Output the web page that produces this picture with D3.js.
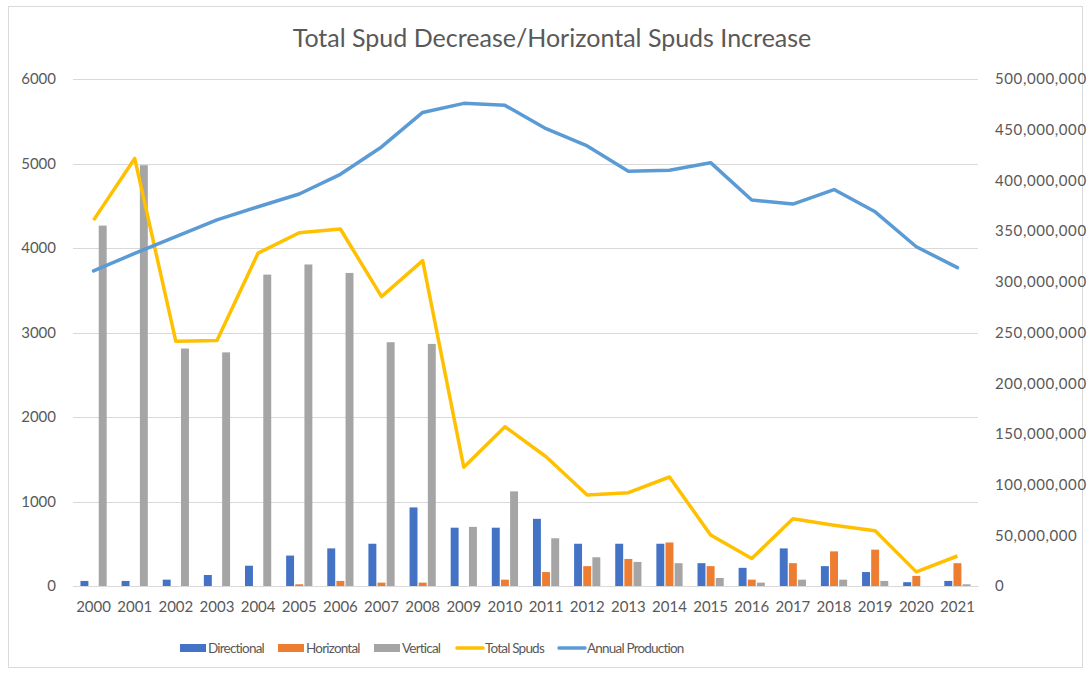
<!DOCTYPE html>
<html>
<head>
<meta charset="utf-8">
<script src="https://cdn.jsdelivr.net/npm/d3@7"></script>
<style>
  body { margin: 0; background: #fff; }
  text { font-family: Lato, "Open Sans", sans-serif; fill: #595959; }
</style>
</head>
<body>
<script>
const w = 1091;
const h = 673;

const years = ["2000","2001","2002","2003","2004","2005","2006","2007","2008","2009","2010",
               "2011","2012","2013","2014","2015","2016","2017","2018","2019","2020","2021"];
const directional = [60, 60, 75, 130, 240, 360, 445, 500, 930, 690, 690,
                     795, 500, 500, 500, 270, 215, 445, 235, 165, 45, 60];
const horizontal  = [0, 0, 0, 0, 0, 20, 60, 40, 40, 0, 75,
                     165, 235, 320, 515, 235, 75, 270, 410, 430, 120, 270];
const vertical    = [4265, 4980, 2810, 2765, 3685, 3805, 3705, 2885, 2865, 700, 1120,
                     565, 340, 285, 270, 95, 40, 75, 75, 60, 0, 20];
const totalSpuds  = [4330, 5060, 2895, 2905, 3940, 4180, 4225, 3425, 3850, 1405, 1885,
                     1530, 1077, 1105, 1290, 604, 325, 795, 720, 655, 167, 355];
const annualProduction = [310.7e6, 328e6, 344.5e6, 361e6, 374e6, 386.6e6, 406e6, 433e6, 467e6, 476e6, 474e6,
                          451e6, 434e6, 409e6, 410e6, 417.5e6, 380.7e6, 376.7e6, 391e6, 369e6, 334.6e6, 314e6];
const leftTicks = [0, 1000, 2000, 3000, 4000, 5000, 6000];
const rightTicks = [0, 50e6, 100e6, 150e6, 200e6, 250e6, 300e6, 350e6, 400e6, 450e6, 500e6];

const series = [
  {name: "Directional", values: directional, color: "#4472C4"},
  {name: "Horizontal", values: horizontal, color: "#ED7D31"},
  {name: "Vertical", values: vertical, color: "#A5A5A5"}
];

const plotLeft = 73, plotRight = 978, plotTop = 79, plotBottom = 586;

const svg = d3.select("body").append("svg")
  .attr("width", w)
  .attr("height", h);

// chart border
svg.append("rect")
  .attr("x", 8.5).attr("y", 6.5)
  .attr("width", 1074).attr("height", 661)
  .attr("fill", "none")
  .attr("stroke", "#d9d9d9");

const xScale = d3.scaleBand().domain(years).range([plotLeft, plotRight]);
const yLeft = d3.scaleLinear().domain([0, 6000]).range([plotBottom, plotTop]);
const yRight = d3.scaleLinear().domain([0, 500e6]).range([plotBottom, plotTop]);

const groupW = xScale.bandwidth() / 1.5;
const inner = d3.scaleBand().domain(series.map(s => s.name)).range([0, groupW]);

// gridlines
svg.append("g")
  .selectAll("line")
  .data(leftTicks)
  .enter()
  .append("line")
  .attr("x1", plotLeft).attr("x2", plotRight)
  .attr("y1", d => Math.round(yLeft(d)) + 0.5)
  .attr("y2", d => Math.round(yLeft(d)) + 0.5)
  .attr("stroke", "#d9d9d9")
  .attr("stroke-width", 1);

// bars
series.forEach(s => {
  svg.append("g")
    .selectAll("rect")
    .data(s.values)
    .enter()
    .append("rect")
    .attr("x", (d, i) => xScale(years[i]) + (xScale.bandwidth() - groupW) / 2 + inner(s.name) + 0.6)
    .attr("width", inner.bandwidth() - 1.2)
    .attr("y", d => yLeft(d))
    .attr("height", d => plotBottom - yLeft(d))
    .attr("fill", s.color);
});

// x axis
const xAxis = d3.axisBottom(xScale).tickSize(0).tickPadding(15);
const gx = svg.append("g")
  .attr("transform", "translate(0," + plotBottom + ")")
  .call(xAxis);
gx.select(".domain").attr("stroke", "#d9d9d9");
gx.selectAll("text").style("font-size", "15px").attr("fill", "#595959");

// left axis
const yAxisL = d3.axisLeft(yLeft).tickValues(leftTicks).tickSize(0).tickPadding(17)
  .tickFormat(d3.format("d"));
const gl = svg.append("g")
  .attr("transform", "translate(" + plotLeft + ",0)")
  .call(yAxisL);
gl.select(".domain").remove();
gl.selectAll("text").style("font-size", "15px").attr("fill", "#595959");

// right axis
const yAxisR = d3.axisRight(yRight).tickValues(rightTicks).tickSize(0).tickPadding(17)
  .tickFormat(d3.format(","));
const gr = svg.append("g")
  .attr("transform", "translate(" + plotRight + ",0)")
  .call(yAxisR);
gr.select(".domain").remove();
gr.selectAll("text").style("font-size", "15px").style("letter-spacing", "0.6px").attr("fill", "#595959");

// lines
const cx = i => xScale(years[i]) + xScale.bandwidth() / 2;

svg.append("path")
  .datum(totalSpuds)
  .attr("fill", "none")
  .attr("stroke", "#FFC000")
  .attr("stroke-width", 3.5)
  .attr("stroke-linejoin", "round")
  .attr("d", d3.line().x((d, i) => cx(i)).y(d => yLeft(d)));

svg.append("path")
  .datum(annualProduction)
  .attr("fill", "none")
  .attr("stroke", "#5B9BD5")
  .attr("stroke-width", 3.5)
  .attr("stroke-linejoin", "round")
  .attr("stroke-linecap", "round")
  .attr("d", d3.line().x((d, i) => cx(i)).y(d => yRight(d)));

// title
svg.append("text")
  .attr("x", 552)
  .attr("y", 47)
  .attr("text-anchor", "middle")
  .style("font-size", "25px")
  .text("Total Spud Decrease/Horizontal Spuds Increase");

// legend
const legend = [
  {name: "Directional", color: "#4472C4", type: "bar", x: 180},
  {name: "Horizontal", color: "#ED7D31", type: "bar", x: 278},
  {name: "Vertical", color: "#A5A5A5", type: "bar", x: 374},
  {name: "Total Spuds", color: "#FFC000", type: "line", x: 457},
  {name: "Annual Production", color: "#5B9BD5", type: "line", x: 559}
];
const lg = svg.append("g");
legend.forEach(l => {
  if (l.type === "bar") {
    lg.append("rect").attr("x", l.x).attr("y", 644).attr("width", 26).attr("height", 8).attr("fill", l.color);
  } else {
    lg.append("line").attr("x1", l.x).attr("x2", l.x + 26).attr("y1", 648).attr("y2", 648)
      .attr("stroke", l.color).attr("stroke-width", 3.5).attr("stroke-linecap", "round");
  }
  lg.append("text").attr("x", l.x + 28).attr("y", 653).style("font-size", "13.5px")
    .style("letter-spacing", "-0.8px").text(l.name);
});
</script>
</body>
</html>
